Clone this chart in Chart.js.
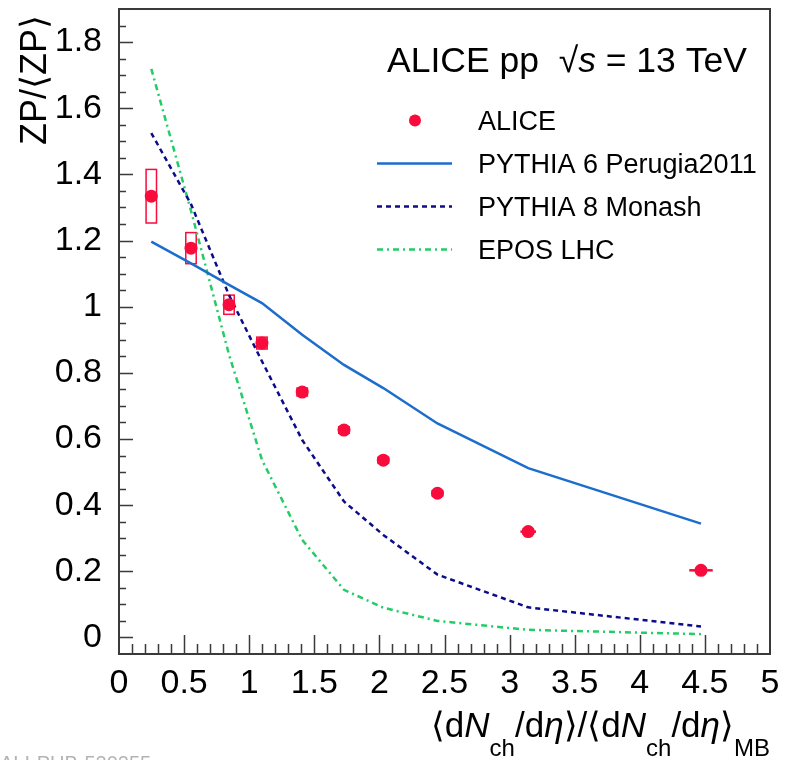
<!DOCTYPE html>
<html>
<head>
<meta charset="utf-8">
<script src="https://cdn.jsdelivr.net/npm/chart.js@4.4.1/dist/chart.umd.min.js"></script>
<style>
  body { margin: 0; background: #fff; }
  #wrap { width: 785px; height: 760px; }
</style>
</head>
<body>
<div id="wrap"><canvas id="zpChart" width="785" height="760"></canvas></div>
<script>
// values
const multX    = [0.248, 0.553, 0.845, 1.098, 1.407, 1.728, 2.030, 2.446, 3.143, 4.470];
const multXErr = [0, 0, 0, 0, 0, 0, 0, 0, 0.06, 0.09];
const aliceZP  = [1.334, 1.177, 1.006, 0.890, 0.742, 0.627, 0.536, 0.436, 0.320, 0.203];
const aliceSys = [0.081, 0.047, 0.029, 0.018, 0.012, 0.010, 0.009, 0.008, 0.007, 0.006];
const pythia6  = [1.197, 1.131, 1.066, 1.011, 0.915, 0.824, 0.754, 0.647, 0.512, 0.344];
const pythia8  = [1.525, 1.310, 1.035, 0.835, 0.597, 0.411, 0.310, 0.190, 0.091, 0.033];
const eposLHC  = [1.719, 1.290, 0.855, 0.537, 0.295, 0.144, 0.090, 0.050, 0.023, 0.010];
const xTicks = [0, 0.5, 1, 1.5, 2, 2.5, 3, 3.5, 4, 4.5, 5];
const yTicks = [0, 0.2, 0.4, 0.6, 0.8, 1, 1.2, 1.4, 1.6, 1.8];

const FONT = "'Liberation Sans', Arial, Helvetica, sans-serif";
const RED = '#f80c3c';
const BLUE = '#1c6dcc';
const NAVY = '#0c0c8a';
const GREEN = '#22cc66';
const DASH_NAVY = [5, 4];
const DASH_GREEN = [6, 4, 2, 4];

const pts = ys => multX.map((x, i) => ({ x: x, y: ys[i] }));

// draws a row of text pieces (normal / italic / sub) on one baseline
function drawParts(c, parts, x, y, align) {
  let total = 0;
  parts.forEach(p => {
    c.font = (p.italic ? 'italic ' : '') + p.size + 'px ' + FONT;
    p.w = c.measureText(p.t).width;
    total += p.w;
  });
  let cx = align === 'right' ? x - total : x;
  c.textAlign = 'left';
  c.textBaseline = 'alphabetic';
  parts.forEach(p => {
    c.font = (p.italic ? 'italic ' : '') + p.size + 'px ' + FONT;
    c.fillText(p.t, cx, y + (p.dy || 0));
    cx += p.w;
  });
}

// ROOT style frame, ticks, boxes, legend and texts
const rootFrame = {
  id: 'rootFrame',
  beforeDatasetsDraw(chart) {
    const c = chart.ctx, xs = chart.scales.x, ys = chart.scales.y;
    c.save();
    c.strokeStyle = RED;
    c.lineWidth = 1.5;
    multX.forEach((x, i) => {
      const l = xs.getPixelForValue(x - 0.04), r = xs.getPixelForValue(x + 0.04);
      const t = ys.getPixelForValue(aliceZP[i] + aliceSys[i]), b = ys.getPixelForValue(aliceZP[i] - aliceSys[i]);
      c.strokeRect(l, t, r - l, b - t);
      if (multXErr[i] > 0) {
        c.lineWidth = 2.5;
        c.beginPath();
        c.moveTo(xs.getPixelForValue(x - multXErr[i]), ys.getPixelForValue(aliceZP[i]));
        c.lineTo(xs.getPixelForValue(x + multXErr[i]), ys.getPixelForValue(aliceZP[i]));
        c.stroke();
        c.lineWidth = 1.5;
      }
    });
    c.restore();
  },
  afterDraw(chart) {
    const c = chart.ctx, a = chart.chartArea, xs = chart.scales.x, ys = chart.scales.y;
    c.save();
    // frame
    c.strokeStyle = '#3a3a3a';
    c.lineWidth = 2;
    c.strokeRect(a.left, a.top, a.right - a.left, a.bottom - a.top);
    // x ticks
    c.lineWidth = 1.5;
    c.beginPath();
    for (let i = 1; i < 50; i++) {
      const px = Math.round(xs.getPixelForValue(i / 10)) + 0.5;
      const len = i % 5 === 0 ? 19 : 10;
      c.moveTo(px, a.bottom);
      c.lineTo(px, a.bottom - len);
    }
    // y ticks
    for (let i = 0; i < 38; i++) {
      const py = Math.round(ys.getPixelForValue(i * 0.05)) + 0.5;
      const len = i % 4 === 0 ? 14 : 7;
      c.moveTo(a.left, py);
      c.lineTo(a.left + len, py);
    }
    c.stroke();

    c.fillStyle = '#000';
    // y title
    c.save();
    c.translate(46, 15);
    c.rotate(-Math.PI / 2);
    c.font = '36px ' + FONT;
    c.textAlign = 'right';
    c.textBaseline = 'alphabetic';
    c.fillText('ZP/\u27E8ZP\u27E9', 0, 0);
    c.restore();

    // x title
    const sub = { size: 24, dy: 19 };
    drawParts(c, [
      { t: '\u27E8d', size: 35 }, { t: 'N', size: 35, italic: true }, Object.assign({ t: 'ch' }, sub),
      { t: '/d', size: 35 }, { t: '\u03B7', size: 35, italic: true }, { t: '\u27E9/\u27E8d', size: 35 },
      { t: 'N', size: 35, italic: true }, Object.assign({ t: 'ch' }, sub),
      { t: '/d', size: 35 }, { t: '\u03B7', size: 35, italic: true }, { t: '\u27E9', size: 35 },
      Object.assign({ t: 'MB' }, sub)
    ], 770, 737, 'right');

    // header
    drawParts(c, [
      { t: 'ALICE pp  ', size: 35.5 }, { t: '\u221A', size: 35.5 }, { t: 's', size: 35.5, italic: true },
      { t: ' = 13 TeV', size: 35.5 }
    ], 387, 72, 'left');

    // legend
    const rows = [
      { label: 'ALICE', kind: 'dot' },
      { label: 'PYTHIA 6 Perugia2011', color: BLUE, dash: [], w: 2.5 },
      { label: 'PYTHIA 8 Monash', color: NAVY, dash: DASH_NAVY, w: 2.5 },
      { label: 'EPOS LHC', color: GREEN, dash: DASH_GREEN, w: 2.5 }
    ];
    rows.forEach((r, i) => {
      const base = 130 + i * 43;
      const cy = base - 9.5;
      if (r.kind === 'dot') {
        c.fillStyle = RED;
        c.beginPath();
        c.arc(415, cy, 6, 0, Math.PI * 2);
        c.fill();
      } else {
        c.strokeStyle = r.color;
        c.lineWidth = r.w;
        c.setLineDash(r.dash);
        c.beginPath();
        c.moveTo(377, cy);
        c.lineTo(452, cy);
        c.stroke();
        c.setLineDash([]);
      }
      c.fillStyle = '#000';
      c.font = '27px ' + FONT;
      c.textAlign = 'left';
      c.textBaseline = 'alphabetic';
      c.fillText(r.label, 478, base);
    });

    // cut-off figure id
    c.fillStyle = '#b4b4b4';
    c.font = '20px ' + FONT;
    c.textBaseline = 'top';
    c.fillText('ALI-PUB-520255', 0, 754);
    c.restore();
  }
};

const zpCtx = document.getElementById('zpChart').getContext('2d');
const zpChart = new Chart(zpCtx, {
  type: 'scatter',
  data: {
    datasets: [
      { label: 'ALICE', data: pts(aliceZP), backgroundColor: RED, borderColor: RED,
        pointRadius: 6.5, pointHoverRadius: 6.5, borderWidth: 0, showLine: false },
      { label: 'PYTHIA 6 Perugia2011', data: pts(pythia6), borderColor: BLUE, borderWidth: 2.5,
        pointRadius: 0, showLine: true },
      { label: 'PYTHIA 8 Monash', data: pts(pythia8), borderColor: NAVY, borderWidth: 2.5,
        borderDash: DASH_NAVY, pointRadius: 0, showLine: true },
      { label: 'EPOS LHC', data: pts(eposLHC), borderColor: GREEN, borderWidth: 2.5,
        borderDash: DASH_GREEN, pointRadius: 0, showLine: true }
    ]
  },
  options: {
    responsive: false,
    animation: false,
    layout: { padding: { top: 9, right: 15, left: 0, bottom: 0 } },
    plugins: { legend: { display: false }, tooltip: { enabled: false } },
    scales: {
      x: {
        type: 'linear', min: 0, max: 5,
        grid: { display: false }, border: { display: false },
        afterBuildTicks: s => { s.ticks = xTicks.map(v => ({ value: v })); },
        afterFit: s => { s.height = 106; s.paddingLeft = 0; s.paddingRight = 0; },
        ticks: { font: { family: FONT, size: 34 }, color: '#000', padding: 1,
                 maxRotation: 0, autoSkip: false, callback: v => String(v) }
      },
      y: {
        type: 'linear', min: -0.05, max: 1.9,
        grid: { display: false }, border: { display: false },
        afterBuildTicks: s => { s.ticks = yTicks.map(v => ({ value: v })); },
        afterFit: s => { s.width = 119; s.paddingTop = 0; s.paddingBottom = 0; },
        ticks: { font: { family: FONT, size: 34 }, color: '#000', padding: 9,
                 autoSkip: false, callback: v => String(+v.toFixed(1)) }
      }
    }
  },
  plugins: [rootFrame]
});
</script>
</body>
</html>
